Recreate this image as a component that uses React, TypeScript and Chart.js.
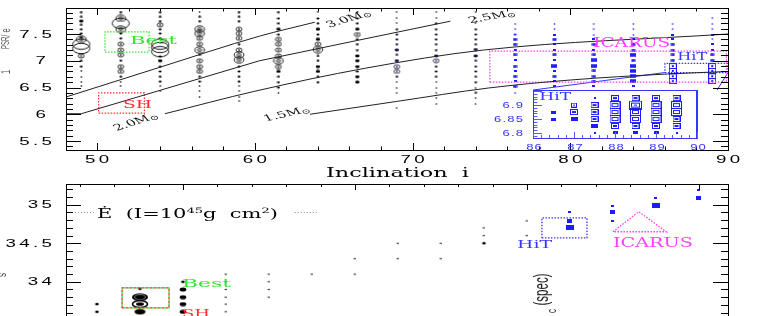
import React, { useEffect, useRef } from "react";
import { Chart, registerables } from "chart.js";

Chart.register(...registerables);

// ================= DATA =================
// Top panel: grid columns (inclination) and values, marker codes per point
const topIncl = [49, 51.5, 54, 56.5, 59, 61.5, 64, 66.5, 69, 71.5, 74, 76.5, 79, 81.5, 84, 86.5, 89];
const topVals: number[][] = [
  [7.91, 7.82, 7.74, 7.67, 7.59, 7.51, 7.44, 7.4, 7.31, 7.23, 7.09, 7.0, 6.89, 6.8, 6.7, 6.61, 6.52],
  [7.91, 7.79, 7.7, 7.59, 7.51, 7.42, 7.31, 7.2, 7.11, 7.0, 6.89, 6.8, 6.7, 6.61, 6.52],
  [7.91, 7.82, 7.74, 7.67, 7.59, 7.51, 7.42, 7.31, 7.25, 7.17, 7.08, 7.0, 6.89, 6.8, 6.7, 6.61, 6.52, 6.43],
  [7.91, 7.82, 7.74, 7.59, 7.51, 7.42, 7.31, 7.2, 7.11, 7.0, 6.89, 6.8, 6.7, 6.61, 6.52, 6.43, 6.33],
  [7.91, 7.82, 7.74, 7.59, 7.51, 7.42, 7.31, 7.2, 7.11, 7.02, 6.89, 6.8, 6.7, 6.61, 6.52, 6.43, 6.33, 6.24],
  [7.91, 7.79, 7.7, 7.59, 7.49, 7.4, 7.31, 7.2, 7.09, 7.0, 6.89, 6.8, 6.7, 6.6, 6.5, 6.4],
  [7.91, 7.79, 7.7, 7.59, 7.49, 7.4, 7.31, 7.21, 7.09, 7.0, 6.89, 6.8, 6.7, 6.6],
  [7.91, 7.79, 7.7, 7.59, 7.49, 7.4, 7.31, 7.2, 7.09, 7.0, 6.89, 6.8, 6.7, 6.6],
  [7.91, 7.79, 7.7, 7.59, 7.49, 7.4, 7.31, 7.2, 7.11, 7.0, 6.89, 6.8, 6.7, 6.6, 6.5, 6.4, 6.12],
  [7.91, 7.79, 7.7, 7.59, 7.49, 7.4, 7.31, 7.2, 7.09, 7.0, 6.89, 6.8, 6.7, 6.6, 6.5, 6.4, 6.31, 6.2],
  [7.91, 7.79, 7.7, 7.59, 7.49, 7.4, 7.31, 7.21, 7.09, 7.0, 6.89, 6.8, 6.7, 6.6, 6.5, 6.4, 6.31, 6.2],
  [7.68, 7.59, 7.49, 7.4, 7.31, 7.2, 7.11, 7.01, 6.9, 6.81, 6.71, 6.62, 6.52, 6.4],
  [7.68, 7.59, 7.49, 7.4, 7.31, 7.2, 7.11, 7.01, 6.9, 6.81, 6.71, 6.62, 6.52, 6.4],
  [7.68, 7.59, 7.49, 7.4, 7.31, 7.2, 7.11, 7.01, 6.9, 6.81, 6.71, 6.62, 6.52, 6.4],
  [7.68, 7.59, 7.49, 7.4, 7.31, 7.2, 7.11, 7.01, 6.9, 6.81, 6.71, 6.62, 6.52],
  [7.68, 7.59, 7.49, 7.4, 7.31, 7.2, 7.11, 7.01, 6.9, 6.81, 6.71, 6.62],
  [7.79, 7.68, 7.59, 7.49, 7.4, 7.31, 7.2, 7.11, 7.01, 6.9, 6.81, 6.71, 6.62],
];
const topMarks = [
  "ddDddddOEEodd....",
  "dOEOddooodood..",
  "dddodddEEEdDdddd..",
  ".ddOOooOdooodd...",
  "dddooodoOOdddd....",
  "dddDdooooOoDddd.",
  ".ddDdDoOddDDdd",
  ".ddDodddDDDdDD",
  "...ddddDdDood....",
  "..ddddddDoddd.....",
  "...ddddDDddddd.d..",
  "..dBBbBbBbBbB.",
  "..bBbbBbRbBbb.",
  "...bBbBRRBBBb.",
  "...bBBRBRRRRb",
  "..bbBBBBQQQQ",
  "...b.bbBBQQQQ",
];

// Mass curves (inclination, value)
const massLabels = ["3.0", "2.5", "2.0", "1.5"];
const curve30I = [48.0, 54.0, 60.3, 63.8];
const curve30V = [6.32, 6.88, 7.46, 7.72];
const curve25I = [48.0, 49.0, 60.3, 66.5, 72.4];
const curve25V = [6.01, 6.01, 7.0, 7.38, 7.74];
const curve20I = [54.3, 60.0, 67.0, 74.5, 90.0];
const curve20V = [6.01, 6.43, 6.86, 7.2, 7.5];
const curve15I = [63.5, 69.0, 74.8, 80.0, 86.0, 90.0];
const curve15V = [6.0, 6.24, 6.49, 6.64, 6.75, 6.8];

// Top panel regions [iMin, iMax, vMin, vMax]
const topBestBox = [50.5, 53.3, 7.16, 7.54];
const topShBox = [50.1, 53.0, 6.02, 6.4];
const topIcarusBox = [74.9, 89.9, 6.6, 7.18];
const topHitBox = [86.0, 90.0, 6.78, 6.95];
const insetTopInMain = [77.64, 89.31, 6.453];

// Inset (HiT zoom)
const insetIncl = [86.5, 87, 87.5, 88, 88.5, 89, 89.5];
const insetVals: number[][] = [
  [6.875, 6.85],
  [6.9, 6.875, 6.85],
  [6.925, 6.9, 6.875, 6.85, 6.825, 6.8],
  [6.925, 6.9, 6.875, 6.85, 6.825, 6.8],
  [6.925, 6.9, 6.875, 6.85, 6.825, 6.8],
  [6.925, 6.9, 6.875, 6.85, 6.825, 6.8],
  [6.925, 6.9, 6.875, 6.85, 6.825, 6.8],
];
const insetMarks = ["ss", "hmf", "tmmmft", "mLLLms", "mXLLms", "mLLLms", "mLLmmt"];

// Bottom panel
const botIncl = [55, 57.5, 60, 62.5, 65, 67.5, 70, 72.5, 75, 77.5, 80, 82.5, 85, 87.5, 90];
const botVals: number[][] = [
  [33.71, 33.61],
  [33.91, 33.8, 33.71, 33.61],
  [34.0, 33.9, 33.8, 33.71, 33.61],
  [34.1, 34.0, 33.9, 33.8, 33.71, 33.61],
  [34.1, 34.0, 33.9, 33.8],
  [34.1],
  [34.3, 34.1],
  [34.5, 34.3],
  [34.5, 34.3],
  [34.7, 34.6, 34.5],
  [34.79, 34.6],
  [34.9, 34.79, 34.7],
  [34.99, 34.9, 34.79],
  [35.09, 34.99],
  [35.19, 35.09],
];
const botMarks = ["dd", "dNCF", "dDDDD", "......", "....", ".", "..", "..", "..", "..d", "..", "bBR", "bBb", "bR", "bB"];
const botBestShBox = [56.46, 59.19, 33.66, 33.92];
const botHitBox = [80.87, 83.49, 34.57, 34.83];
const botIcarusTriI = [85.0, 86.5, 88.1];
const botIcarusTriV = [34.65, 34.91, 34.65];
const edotLevel = 34.9;
const edotLeftSpan = [53.2, 54.8];
const edotRightSpan = [66.5, 67.85];

// Tick labels
const topXTicks = [50, 60, 70, 80, 90];
const topYTicks = ["5.5", "6", "6.5", "7", "7.5"];
const botYTicks = ["34", "34.5", "35"];
const insetXTicks = [86, 87, 88, 89, 90];
const insetYTicks = ["6.8", "6.85", "6.9"];

// ================= STYLE =================
const BLACK = "#000000";
const NAVY = "#16163c";
const BLUE = "#1c1cff";
const GREEN = "#2fe52f";
const RED = "#ff2a2a";
const MAGENTA = "#ff3cff";
const HIT_BLUE = "#3535ff";
const SX = 1.7;

type Shape = { w: number; h: number; draw: (g: CanvasRenderingContext2D, cx: number, cy: number) => void };

function fE(g: CanvasRenderingContext2D, cx: number, cy: number, rx: number, ry: number) {
  g.beginPath();
  g.ellipse(cx, cy, rx, ry, 0, 0, Math.PI * 2);
  g.fill();
}
function sE(g: CanvasRenderingContext2D, cx: number, cy: number, rx: number, ry: number, lw: number) {
  g.lineWidth = lw;
  g.beginPath();
  g.ellipse(cx, cy, rx, ry, 0, 0, Math.PI * 2);
  g.stroke();
}
function fR(g: CanvasRenderingContext2D, cx: number, cy: number, w: number, h: number) {
  g.fillRect(cx - w / 2, cy - h / 2, w, h);
}
function sR(g: CanvasRenderingContext2D, cx: number, cy: number, w: number, h: number) {
  g.lineWidth = 1;
  g.strokeRect(cx - w / 2 + 0.5, cy - h / 2 + 0.5, w - 1, h - 1);
}

const SHAPES: Record<string, Shape> = {
  "t.": { w: 3, h: 2, draw: (g, x, y) => fE(g, x, y, 0.9, 0.7) },
  "td": { w: 4, h: 3, draw: (g, x, y) => fE(g, x, y, 1.5, 1.0) },
  "tD": { w: 6, h: 4, draw: (g, x, y) => fE(g, x, y, 2.2, 1.4) },
  "to": { w: 8, h: 6, draw: (g, x, y) => { sE(g, x, y, 3.0, 2.0, 0.8); fE(g, x, y, 1.0, 0.7); } },
  "tO": { w: 12, h: 8, draw: (g, x, y) => { sE(g, x, y, 4.8, 3.1, 0.85); sE(g, x, y, 2.3, 1.4, 0.7); fE(g, x, y, 0.8, 0.6); } },
  "tE": { w: 20, h: 13, draw: (g, x, y) => sE(g, x, y, 8.6, 5.2, 0.9) },
  "tb": { w: 3, h: 2, draw: (g, x, y) => fR(g, x, y, 3, 2) },
  "tB": { w: 5, h: 3, draw: (g, x, y) => fR(g, x, y, 4, 2.5) },
  "tR": { w: 6, h: 4, draw: (g, x, y) => fR(g, x, y, 6, 3.5) },
  "tQ": { w: 8, h: 6, draw: (g, x, y) => { sR(g, x, y, 8, 6); fR(g, x, y, 2, 2); } },
  "it": { w: 2, h: 2, draw: (g, x, y) => fR(g, x, y, 2, 2) },
  "is": { w: 5, h: 3, draw: (g, x, y) => fR(g, x, y, 5, 3) },
  "if": { w: 7, h: 4, draw: (g, x, y) => fR(g, x, y, 7, 4) },
  "ih": { w: 6, h: 5, draw: (g, x, y) => { sR(g, x, y, 6, 5); fR(g, x, y, 2, 1); } },
  "im": { w: 8, h: 6, draw: (g, x, y) => { sR(g, x, y, 8, 6); fR(g, x, y, 4, 2); } },
  "iL": { w: 11, h: 8, draw: (g, x, y) => { sR(g, x, y, 11, 8); sR(g, x, y, 7, 4); } },
  "iX": { w: 13, h: 9, draw: (g, x, y) => { sR(g, x, y, 13, 9); sR(g, x, y, 9, 5); fR(g, x, y, 3, 1); } },
  "b.": { w: 3, h: 3, draw: (g, x, y) => fE(g, x, y, 1.0, 0.8) },
  "bd": { w: 5, h: 4, draw: (g, x, y) => fE(g, x, y, 1.8, 1.3) },
  "bD": { w: 8, h: 5, draw: (g, x, y) => fE(g, x, y, 3.3, 2.0) },
  "bF": { w: 13, h: 7, draw: (g, x, y) => fE(g, x, y, 5.5, 2.7) },
  "bN": { w: 18, h: 10, draw: (g, x, y) => { fE(g, x, y, 8, 3.8); g.strokeStyle = "#777"; sE(g, x, y, 5.5, 2.5, 1); g.strokeStyle = "#000"; sE(g, x, y, 3, 1.3, 1); } },
  "bC": { w: 18, h: 10, draw: (g, x, y) => { sE(g, x, y, 7.5, 3.5, 1.6); fE(g, x, y, 4, 1.8); } },
  "bb": { w: 3, h: 2, draw: (g, x, y) => fR(g, x, y, 3, 2) },
  "bB": { w: 5, h: 4, draw: (g, x, y) => fR(g, x, y, 5, 4) },
  "bR": { w: 8, h: 5, draw: (g, x, y) => fR(g, x, y, 8, 5) },
};

const markerCache = new Map<string, HTMLCanvasElement>();
function marker(panel: string, code: string, color: string): HTMLCanvasElement {
  const key = panel + code + color;
  const hit = markerCache.get(key);
  if (hit) return hit;
  const s = SHAPES[panel + code] || SHAPES[panel + "."] || SHAPES["t."];
  const c = document.createElement("canvas");
  c.width = s.w;
  c.height = s.h;
  const g = c.getContext("2d")!;
  g.fillStyle = color;
  g.strokeStyle = color;
  s.draw(g, s.w / 2, s.h / 2);
  markerCache.set(key, c);
  return c;
}

// ================= TEXT HELPER =================
type Part = { t: string; k?: number; dy?: number };
type TOpt = {
  size: number;
  family?: string;
  color?: string;
  align?: "left" | "center" | "right";
  sx?: number;
  width?: number;
  ls?: number;
  angle?: number;
  baseline?: CanvasTextBaseline;
};
function drawRich(ctx: CanvasRenderingContext2D, parts: Part[], x: number, y: number, o: TOpt) {
  const fam = o.family ?? "Liberation Sans";
  const ls = o.ls ?? 0;
  ctx.save();
  const items: { ch: string; font: string; x: number; dy: number }[] = [];
  let total = 0;
  for (const p of parts) {
    const font = `${(o.size * (p.k ?? 1)).toFixed(2)}px "${fam}"`;
    ctx.font = font;
    for (const ch of Array.from(p.t)) {
      const w = ctx.measureText(ch).width;
      items.push({ ch, font, x: total, dy: p.dy ?? 0 });
      total += w + ls;
    }
  }
  total -= ls;
  const sx = o.width ? o.width / total : o.sx ?? 1;
  const start = o.align === "right" ? -total : o.align === "center" ? -total / 2 : 0;
  ctx.translate(x, y);
  ctx.scale(sx, 1);
  if (o.angle) {
    const a = (o.angle * Math.PI) / 180;
    ctx.rotate(Math.atan2(sx * Math.sin(a), Math.cos(a)));
  }
  ctx.fillStyle = o.color ?? "#000";
  ctx.textAlign = "left";
  ctx.textBaseline = o.baseline ?? "alphabetic";
  for (const it of items) {
    ctx.font = it.font;
    ctx.fillText(it.ch, start + it.x, it.dy);
  }
  ctx.restore();
}

// ================= TICKS / FRAME =================
function ticks(
  ctx: CanvasRenderingContext2D,
  scale: any,
  axis: "x" | "y",
  pos: number,
  dir: number,
  step: number,
  majorEvery: number,
  majorLen: number,
  minorLen: number
) {
  const n0 = Math.ceil(scale.min / step - 1e-6);
  const n1 = Math.floor(scale.max / step + 1e-6);
  ctx.beginPath();
  for (let n = n0; n <= n1; n++) {
    const v = n * step;
    const len = n % majorEvery === 0 ? majorLen : minorLen;
    const p = Math.round(scale.getPixelForValue(v)) + 0.5;
    if (axis === "y") {
      ctx.moveTo(pos, p);
      ctx.lineTo(pos + dir * len, p);
    } else {
      ctx.moveTo(p, pos);
      ctx.lineTo(p, pos + dir * len);
    }
  }
  ctx.stroke();
}

function frame(ctx: CanvasRenderingContext2D, a: any, color: string, lw = 1) {
  ctx.save();
  ctx.strokeStyle = color;
  ctx.lineWidth = lw;
  ctx.strokeRect(Math.round(a.left) + 0.5, Math.round(a.top) + 0.5, Math.round(a.right - a.left), Math.round(a.bottom - a.top));
  ctx.restore();
}

// ================= DATASET HELPERS =================
function columnSets(incl: number[], vals: number[][], marks: string[], panel: string, colorFor: (i: number) => string) {
  return incl.map((inc, c) => {
    const color = colorFor(inc);
    return {
      data: vals[c].map((v, k) => ({ x: inc, y: v, m: marks[c][k] ?? "." })),
      pointStyle: (cx: any) => marker(panel, cx.raw ? cx.raw.m : ".", color),
      pointRadius: 3,
      borderWidth: 0,
      showLine: false,
      order: 2,
    };
  });
}
function lineSet(pts: { x: number; y: number }[], color: string, lw: number, dash: number[] = [], dashOffset = 0, smooth = false) {
  return {
    data: pts,
    showLine: true,
    borderColor: color,
    borderWidth: lw,
    borderDash: dash,
    borderDashOffset: dashOffset,
    pointRadius: 0,
    fill: false,
    tension: smooth ? 0.4 : 0,
    cubicInterpolationMode: smooth ? "monotone" : "default",
    order: 1,
  };
}
function boxPts(b: number[]) {
  return [
    { x: b[0], y: b[2] },
    { x: b[1], y: b[2] },
    { x: b[1], y: b[3] },
    { x: b[0], y: b[3] },
    { x: b[0], y: b[2] },
  ];
}
function zip(i: number[], v: number[]) {
  return i.map((x, k) => ({ x, y: v[k] }));
}

function baseOptions(xr: [number, number], yr: [number, number], pad: any) {
  return {
    responsive: false,
    animation: false,
    devicePixelRatio: 1,
    events: [],
    layout: { padding: pad },
    plugins: { legend: { display: false }, tooltip: { enabled: false } },
    scales: {
      x: { type: "linear", min: xr[0], max: xr[1], display: false },
      y: { type: "linear", min: yr[0], max: yr[1], display: false },
    },
  };
}

// ================= CHART CONFIGS =================
function topConfig(): any {
  const colorFor = (i: number) => (i < 68 ? BLACK : i < 75 ? NAVY : BLUE);
  const massPos = [
    { i: 65.97, v: 7.78, angle: -17 },
    { i: 75.04, v: 7.818, angle: -10 },
    { i: 52.47, v: 5.855, angle: -18 },
    { i: 62.04, v: 6.0, angle: -13 },
  ];
  const notes = [
    { t: "Best", i: 52.09, v: 7.32, w: 47, size: 10.5, color: GREEN },
    { t: "SH", i: 51.64, v: 6.126, w: 29, size: 10.5, color: RED },
    { t: "ICARUS", i: 81.45, v: 7.257, w: 77, size: 12, color: MAGENTA },
    { t: "HiT", i: 86.78, v: 7.014, w: 30, size: 11, color: HIT_BLUE },
  ];
  const plugin = {
    id: "topDeco",
    afterDraw(chart: any) {
      const { ctx, chartArea: a, scales } = chart;
      const xs = scales.x;
      const ys = scales.y;
      frame(ctx, a, "#000");
      ctx.save();
      ctx.strokeStyle = "#000";
      ctx.lineWidth = 1;
      ticks(ctx, ys, "y", a.left, 1, 0.1, 5, 15, 7);
      ticks(ctx, ys, "y", a.right, -1, 0.1, 5, 15, 7);
      ticks(ctx, xs, "x", a.bottom, -1, 2, 5, 7, 3.5);
      ticks(ctx, xs, "x", a.top, 1, 2, 5, 7, 3.5);
      ctx.restore();
      topYTicks.forEach((lbl) => {
        const py = ys.getPixelForValue(parseFloat(lbl));
        const rx = lbl.includes(".") ? a.left - 14 : a.left - 20;
        drawRich(ctx, [{ t: lbl }], rx, py + 0.5, { size: 11, sx: SX, ls: 2, align: "right", baseline: "middle" });
      });
      topXTicks.forEach((v) => {
        drawRich(ctx, [{ t: String(v) }], xs.getPixelForValue(v), a.bottom + 13, { size: 11, sx: SX, ls: 2, align: "center" });
      });
      drawRich(ctx, [{ t: "Inclination  i" }], (a.left + a.right) / 2 - 71, a.bottom + 27, {
        size: 12.5,
        family: "DejaVu Serif",
        width: 143,
      });
      massLabels.forEach((m, k) => {
        const p = massPos[k];
        drawRich(ctx, [{ t: m + "M" }, { t: "⊙", k: 0.75, dy: 2 }], xs.getPixelForValue(p.i), ys.getPixelForValue(p.v), {
          size: 8.8,
          family: "DejaVu Serif",
          sx: SX,
          align: "center",
          baseline: "middle",
          angle: p.angle,
          color: "#111",
        });
      });
      notes.forEach((n) => {
        drawRich(ctx, [{ t: n.t }], xs.getPixelForValue(n.i), ys.getPixelForValue(n.v), {
          size: n.size,
          family: "DejaVu Serif",
          width: n.w,
          color: n.color,
        });
      });
      drawRich(ctx, [{ t: "1" }, { t: "          " }, { t: "PSR", k: 0.8 }, { t: "/ e" }], 6, 74, {
        size: 7.5,
        sx: SX,
        angle: -90,
        color: "#555",
        baseline: "middle",
      });
    },
  };
  const datasets: any[] = [
    lineSet(zip(curve30I, curve30V), "#222", 1, [], 0, true),
    lineSet(zip(curve25I, curve25V), "#222", 1, [], 0, false),
    lineSet(zip(curve20I, curve20V), "#222", 1, [], 0, true),
    lineSet(zip(curve15I, curve15V), "#222", 1, [], 0, true),
    lineSet(boxPts(topBestBox), GREEN, 1.2, [1.5, 1.5]),
    lineSet(boxPts(topShBox), RED, 1.2, [1.5, 1.5]),
    lineSet(boxPts(topIcarusBox), MAGENTA, 1.2, [1.5, 1.5]),
    lineSet(boxPts(topHitBox), HIT_BLUE, 1.2, [1.5, 1.5]),
    lineSet([{ x: insetTopInMain[0], y: insetTopInMain[2] }, { x: topHitBox[0], y: topHitBox[2] }], HIT_BLUE, 1),
    lineSet([{ x: insetTopInMain[1], y: insetTopInMain[2] }, { x: topHitBox[1], y: topHitBox[2] }], HIT_BLUE, 1),
    ...columnSets(topIncl, topVals, topMarks, "t", colorFor),
  ];
  return {
    type: "scatter",
    data: { datasets },
    options: baseOptions([48.03, 90], [5.332, 7.986], { left: 66, right: 42, top: 8, bottom: 32 }),
    plugins: [plugin],
  };
}

function insetConfig(): any {
  const plugin = {
    id: "insetDeco",
    beforeDatasetsDraw(chart: any) {
      const { ctx, chartArea: a } = chart;
      ctx.save();
      ctx.fillStyle = "#fff";
      ctx.fillRect(a.left, a.top, a.right - a.left, a.bottom - a.top);
      ctx.restore();
    },
    afterDraw(chart: any) {
      const { ctx, chartArea: a, scales } = chart;
      const xs = scales.x;
      const ys = scales.y;
      frame(ctx, a, HIT_BLUE, 1);
      ctx.save();
      ctx.strokeStyle = HIT_BLUE;
      ctx.lineWidth = 2;
      ctx.beginPath();
      ctx.moveTo(a.right, a.top);
      ctx.lineTo(a.right, a.bottom + 1);
      ctx.stroke();
      ctx.lineWidth = 1;
      ctx.strokeStyle = "#5a5aff";
      ticks(ctx, ys, "y", a.left + 1, 1, 0.01, 5, 8, 3.5);
      ticks(ctx, xs, "x", a.bottom, -1, 0.2, 5, 6, 3);
      ctx.restore();
      insetYTicks.forEach((lbl) => {
        drawRich(ctx, [{ t: lbl }], a.left - 10, ys.getPixelForValue(parseFloat(lbl)) + 0.5, {
          size: 9,
          sx: 1.45,
          ls: 0.8,
          align: "right",
          baseline: "middle",
          color: HIT_BLUE,
        });
      });
      insetXTicks.forEach((v) => {
        drawRich(ctx, [{ t: String(v) }], xs.getPixelForValue(v) + 1, a.bottom + 12, {
          size: 9,
          sx: 1.45,
          ls: 0.8,
          align: "center",
          color: HIT_BLUE,
        });
      });
      drawRich(ctx, [{ t: "HiT" }], xs.getPixelForValue(86.15), ys.getPixelForValue(6.918), {
        size: 11,
        family: "DejaVu Serif",
        width: 32,
        color: HIT_BLUE,
      });
    },
  };
  return {
    type: "scatter",
    data: { datasets: columnSets(insetIncl, insetVals, insetMarks, "i", () => BLUE) },
    options: baseOptions([86, 90], [6.782, 6.954], { left: 53, right: 43, top: 10, bottom: 27 }),
    plugins: [plugin],
  };
}

function botConfig(): any {
  const colorFor = (i: number) => (i > 81 ? BLUE : BLACK);
  const notes = [
    { parts: [{ t: "Ė  (I=10" }, { t: "45", k: 0.62, dy: -5 }, { t: "g  cm" }, { t: "2", k: 0.62, dy: -5 }, { t: ")" }], i: 55.0, v: 34.83, w: 181, size: 12, color: "#000" },
    { parts: [{ t: "Best" }], i: 59.94, v: 33.935, w: 49, size: 11, color: GREEN },
    { parts: [{ t: "SH" }], i: 59.94, v: 33.545, w: 28, size: 11, color: RED },
    { parts: [{ t: "HiT" }], i: 79.42, v: 34.44, w: 35, size: 11, color: HIT_BLUE },
    { parts: [{ t: "ICARUS" }], i: 85.0, v: 34.45, w: 80, size: 12, color: MAGENTA },
  ];
  const plugin = {
    id: "botDeco",
    afterDraw(chart: any) {
      const { ctx, chartArea: a, scales } = chart;
      const xs = scales.x;
      const ys = scales.y;
      frame(ctx, a, "#000");
      ctx.save();
      ctx.strokeStyle = "#000";
      ctx.lineWidth = 1;
      ticks(ctx, ys, "y", a.left, 1, 0.1, 5, 15, 7);
      ticks(ctx, ys, "y", a.right, -1, 0.1, 5, 15, 7);
      ticks(ctx, xs, "x", a.top, 1, 2, 5, 6, 3);
      ctx.restore();
      botYTicks.forEach((lbl) => {
        drawRich(ctx, [{ t: lbl }], a.left - 14, ys.getPixelForValue(parseFloat(lbl)) + 0.5, {
          size: 11,
          sx: SX,
          ls: 2,
          align: "right",
          baseline: "middle",
        });
      });
      notes.forEach((n) => {
        drawRich(ctx, n.parts, xs.getPixelForValue(n.i), ys.getPixelForValue(n.v), {
          size: n.size,
          family: "DejaVu Serif",
          width: n.w,
          color: n.color,
        });
      });
      drawRich(ctx, [{ t: "(spec)" }], xs.getPixelForValue(80.93), ys.getPixelForValue(33.9), {
        size: 11.5,
        sx: SX,
        align: "center",
        baseline: "middle",
        angle: -90,
        color: "#222",
      });
      drawRich(ctx, [{ t: "c" }], xs.getPixelForValue(81.46), ys.getPixelForValue(33.62), {
        size: 8,
        sx: SX,
        align: "center",
        baseline: "middle",
        angle: -90,
        color: "#222",
      });
      drawRich(ctx, [{ t: "s" }], 2, a.top + 91, { size: 8, sx: SX, angle: -90, baseline: "middle", align: "center", color: "#444" });
    },
  };
  const datasets: any[] = [
    lineSet(boxPts(botBestShBox), RED, 1.3, [2, 2], 0),
    lineSet(boxPts(botBestShBox), GREEN, 1.3, [2, 2], 2),
    lineSet(boxPts(botHitBox), HIT_BLUE, 1.3, [1.5, 1.5]),
    lineSet([...zip(botIcarusTriI, botIcarusTriV), { x: botIcarusTriI[0], y: botIcarusTriV[0] }], MAGENTA, 1.3, [1.5, 1.5]),
    lineSet(edotLeftSpan.map((x) => ({ x, y: edotLevel })), "#888", 1, [1, 2]),
    lineSet(edotRightSpan.map((x) => ({ x, y: edotLevel })), "#888", 1, [1, 2]),
    ...columnSets(botIncl, botVals, botMarks, "b", colorFor),
  ];
  return {
    type: "scatter",
    data: { datasets },
    options: baseOptions([53.2, 91.69], [31.945, 35.27], { left: 66, right: 42, top: 24, bottom: 20 }),
    plugins: [plugin],
  };
}

// ================= COMPONENT =================
export default function App() {
  const topRef = useRef<HTMLCanvasElement>(null);
  const botRef = useRef<HTMLCanvasElement>(null);
  const insetRef = useRef<HTMLCanvasElement>(null);

  useEffect(() => {
    const charts = [
      new Chart(topRef.current!, topConfig()),
      new Chart(botRef.current!, botConfig()),
      new Chart(insetRef.current!, insetConfig()),
    ];
    return () => charts.forEach((c) => c.destroy());
  }, []);

  return (
    <div
      style={{
        position: "fixed",
        left: 0,
        top: 0,
        width: 770,
        height: 316,
        overflow: "hidden",
        background: "#fff",
      }}
    >
      <canvas ref={topRef} width={770} height={182} style={{ position: "absolute", left: 0, top: 0, width: 770, height: 182 }} />
      <canvas ref={botRef} width={770} height={300} style={{ position: "absolute", left: 0, top: 160, width: 770, height: 300 }} />
      <canvas ref={insetRef} width={260} height={85} style={{ position: "absolute", left: 480, top: 80, width: 260, height: 85 }} />
    </div>
  );
}
